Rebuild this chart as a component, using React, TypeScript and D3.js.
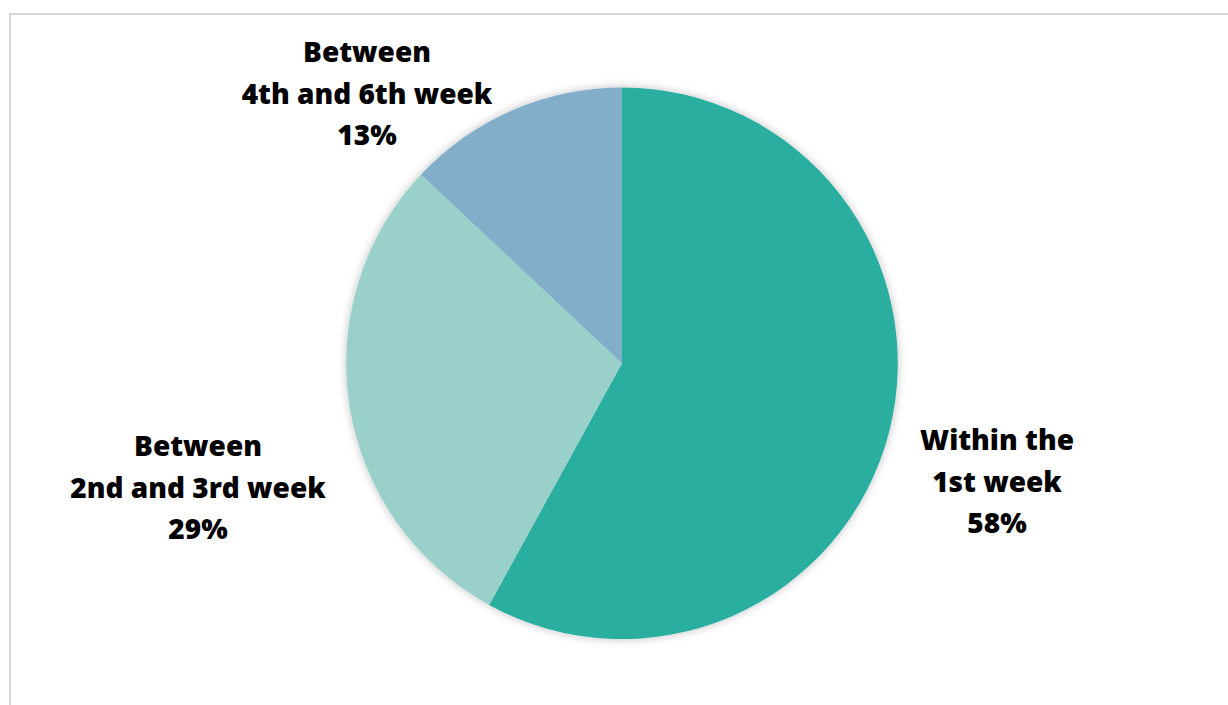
import React from "react";
import * as d3 from "d3";

const categories = ["Within the\n1st week", "Between\n2nd and 3rd week", "Between\n4th and 6th week"];
const values = [58, 29, 13];
const colors = ["#2BAEA0", "#99D1CA", "#83AECA"];
const labelPos: [number, number][] = [
  [997, 450],
  [198, 456],
  [367, 62],
];

const W = 1228;
const H = 705;
const cx = 622;
const cy = 363.3;
const R = 275.8;

export default function App() {
  const pie = d3.pie<number>().sort(null).value((d) => d)(values);
  const arc = d3.arc<d3.PieArcDatum<number>>().innerRadius(0).outerRadius(R);
  const total = d3.sum(values);
  const fmt = d3.format(".0%");
  return (
    <svg
      width={W}
      height={H}
      style={{ position: "absolute", left: 0, top: 0, display: "block" }}
      fontFamily="'Open Sans', sans-serif"
    >
      <defs>
        <filter id="sh" x="-20%" y="-20%" width="140%" height="140%">
          <feGaussianBlur in="SourceAlpha" stdDeviation="5" />
          <feComponentTransfer>
            <feFuncA type="linear" slope="0.25" />
          </feComponentTransfer>
          <feMerge>
            <feMergeNode />
            <feMergeNode in="SourceGraphic" />
          </feMerge>
        </filter>
      </defs>
      <rect x={0} y={0} width={W} height={H} fill="#fff" />
      <path d={`M10,${H} V14 H${W}`} fill="none" stroke="#D9D9D9" strokeWidth={2} />
      <g transform={`translate(${cx},${cy})`} filter="url(#sh)">
        {pie.map((p, i) => (
          <path key={i} d={arc(p) || ""} fill={colors[i]} />
        ))}
      </g>
      {categories.map((c, i) => {
        const lines = [...c.split("\n"), fmt(values[i] / total)];
        const [x, y] = labelPos[i];
        return (
          <text key={i} x={x} y={y} textAnchor="middle" fontSize={28} fontWeight={800} fill="#000">
            {lines.map((l, j) => (
              <tspan key={j} x={x} dy={j === 0 ? 0 : 41.5}>
                {l}
              </tspan>
            ))}
          </text>
        );
      })}
    </svg>
  );
}
